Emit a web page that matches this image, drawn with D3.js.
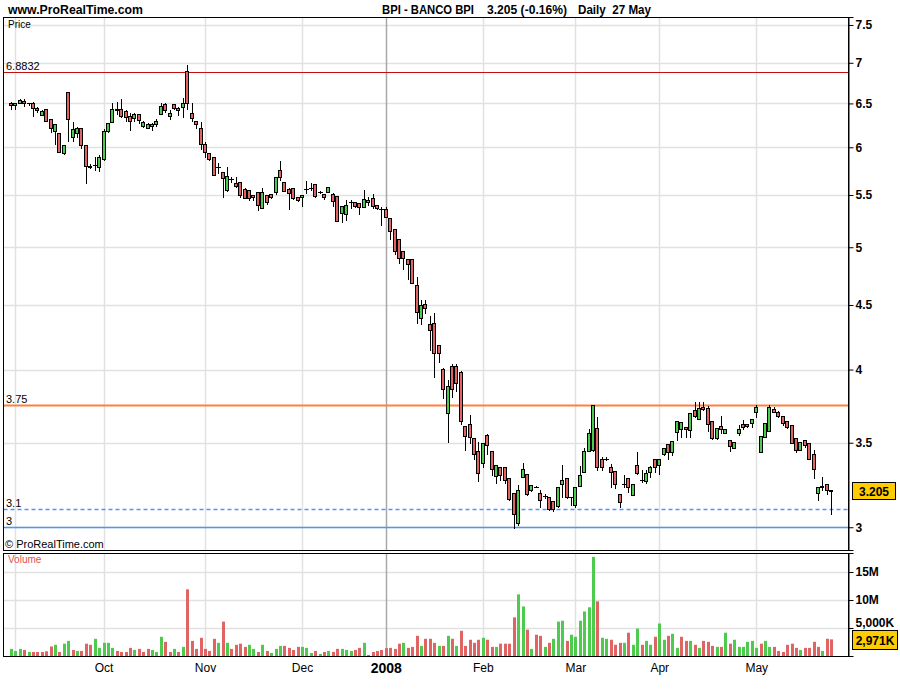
<!DOCTYPE html>
<html><head><meta charset="utf-8">
<script src="https://cdn.jsdelivr.net/npm/d3@7/dist/d3.min.js"></script>
<style>
body{margin:0;background:#fff}
svg{display:block}
text{font-family:"Liberation Sans",Arial,sans-serif}
</style>
</head><body>
<svg id="chart" width="900" height="700"></svg>
<script>
// ---------- DATA ----------
const openP=[6.50,6.48,6.50,6.53,6.50,6.51,6.445,6.36,6.43,6.314,6.18,6.155,5.94,6.633,6.11,6.155,6.21,6.02,5.80,5.81,
5.785,5.87,6.18,6.28,6.44,6.43,6.414,6.354,6.33,6.38,6.237,6.21,6.237,6.26,6.375,6.49,6.357,6.49,6.45,6.455,
6.90,6.385,6.30,6.21,6.04,5.935,5.90,5.785,5.738,5.55,5.66,5.618,5.628,5.557,5.55,5.50,5.527,5.368,5.50,5.507,
5.527,5.756,5.628,5.56,5.567,5.477,5.477,5.56,5.567,5.607,5.533,5.51,5.527,5.507,5.49,5.325,5.31,5.434,5.428,5.418,
5.385,5.434,5.467,5.397,5.36,5.358,5.27,5.167,5.073,4.966,4.894,4.89,4.665,4.392,4.508,4.346,4.352,4.183,4.004,3.693,
4.026,4.026,3.98,3.606,3.62,3.532,3.445,3.374,3.548,3.45,3.293,3.346,3.346,3.28,3.194,3.026,3.285,3.304,3.21,3.23,
3.194,3.175,3.168,3.148,3.12,3.249,3.28,3.17,3.127,3.236,3.32,3.448,3.453,3.597,3.40,3.397,3.346,3.322,3.19,3.245,
3.28,3.18,3.36,3.269,3.265,3.32,3.40,3.36,3.426,3.49,3.44,3.57,3.587,3.60,3.582,3.715,3.653,3.737,3.726,3.641,
3.528,3.608,3.56,3.517,3.468,3.565,3.62,3.622,3.626,3.70,3.44,3.538,3.577,3.72,3.704,3.675,3.641,3.615,3.528,3.453,
3.52,3.496,3.426,3.194,3.23,3.244,3.21];
const highP=[6.52,6.51,6.55,6.55,6.51,6.52,6.46,6.42,6.44,6.314,6.26,6.16,6.03,6.633,6.28,6.23,6.21,6.02,5.815,5.90,
5.92,6.20,6.27,6.51,6.52,6.55,6.42,6.385,6.385,6.38,6.295,6.27,6.27,6.32,6.51,6.50,6.42,6.49,6.46,6.56,
6.97,6.51,6.30,6.28,6.06,5.94,5.90,5.833,5.738,5.79,5.68,5.68,5.628,5.567,5.55,5.50,5.527,5.573,5.50,5.507,
5.68,5.85,5.628,5.567,5.567,5.477,5.50,5.64,5.624,5.607,5.543,5.51,5.577,5.516,5.49,5.39,5.45,5.45,5.428,5.418,
5.55,5.483,5.51,5.397,5.377,5.377,5.27,5.167,5.08,4.966,4.894,4.89,4.736,4.539,4.541,4.41,4.432,4.183,4.01,3.924,
4.041,4.041,3.987,3.606,3.682,3.532,3.506,3.496,3.556,3.45,3.36,3.346,3.346,3.28,3.194,3.24,3.37,3.304,3.24,3.234,
3.21,3.19,3.168,3.148,3.226,3.36,3.28,3.17,3.226,3.355,3.468,3.587,3.75,3.67,3.41,3.41,3.366,3.322,3.19,3.30,
3.28,3.249,3.443,3.33,3.33,3.355,3.40,3.40,3.464,3.49,3.512,3.641,3.633,3.60,3.697,3.767,3.767,3.767,3.744,3.641,
3.593,3.674,3.587,3.517,3.506,3.615,3.648,3.622,3.653,3.75,3.543,3.626,3.75,3.733,3.71,3.675,3.641,3.615,3.528,3.506,
3.52,3.496,3.457,3.226,3.285,3.244,3.21];
const lowP=[6.437,6.44,6.50,6.47,6.48,6.357,6.40,6.36,6.295,6.17,6.036,5.945,5.93,6.07,6.07,6.118,5.99,5.62,5.775,5.756,
5.75,5.862,6.17,6.28,6.38,6.34,6.29,6.19,6.29,6.27,6.23,6.21,6.19,6.237,6.375,6.40,6.314,6.43,6.365,6.346,
6.43,6.29,6.21,5.977,5.90,5.862,5.70,5.728,5.483,5.54,5.635,5.584,5.483,5.467,5.45,5.45,5.351,5.368,5.41,5.47,
5.507,5.652,5.54,5.364,5.457,5.44,5.393,5.523,5.55,5.483,5.516,5.46,5.527,5.393,5.247,5.238,5.254,5.374,5.385,5.31,
5.385,5.40,5.368,5.358,5.207,5.28,5.075,4.94,4.86,4.805,4.716,4.68,4.356,4.35,4.437,4.145,3.944,4.055,3.80,3.506,
3.806,3.848,3.62,3.457,3.496,3.397,3.263,3.35,3.428,3.30,3.255,3.269,3.25,3.152,2.998,3.01,3.285,3.18,3.206,3.226,
3.114,3.162,3.095,3.091,3.114,3.17,3.164,3.125,3.114,3.234,3.32,3.448,3.448,3.33,3.33,3.39,3.226,3.222,3.114,3.226,
3.20,3.18,3.306,3.259,3.253,3.285,3.32,3.306,3.422,3.40,3.422,3.517,3.538,3.538,3.538,3.67,3.653,3.715,3.577,3.524,
3.524,3.56,3.56,3.448,3.464,3.55,3.587,3.60,3.60,3.67,3.44,3.538,3.577,3.704,3.67,3.615,3.593,3.496,3.443,3.453,
3.474,3.40,3.283,3.152,3.21,3.19,3.076];
const closeP=[6.478,6.51,6.537,6.50,6.50,6.445,6.422,6.41,6.298,6.21,6.26,5.945,6.03,6.314,6.20,6.21,6.025,5.80,5.785,5.81,
5.90,6.18,6.27,6.43,6.42,6.357,6.346,6.30,6.375,6.306,6.28,6.26,6.26,6.30,6.47,6.422,6.39,6.45,6.42,6.51,
6.50,6.33,6.26,6.04,5.945,5.876,5.70,5.785,5.67,5.697,5.66,5.59,5.50,5.473,5.473,5.483,5.397,5.527,5.434,5.477,
5.68,5.68,5.543,5.516,5.473,5.45,5.50,5.56,5.567,5.493,5.533,5.477,5.577,5.443,5.247,5.39,5.397,5.434,5.394,5.38,
5.457,5.45,5.394,5.368,5.36,5.285,5.153,4.968,4.90,4.906,4.847,4.687,4.445,4.502,4.473,4.30,4.12,4.12,3.858,3.88,
3.858,3.905,3.641,3.545,3.535,3.426,3.313,3.496,3.485,3.334,3.36,3.30,3.269,3.156,3.076,3.208,3.334,3.19,3.238,3.23,
3.152,3.175,3.099,3.099,3.226,3.273,3.168,3.17,3.226,3.298,3.447,3.56,3.75,3.346,3.346,3.397,3.318,3.249,3.142,3.245,
3.226,3.249,3.31,3.269,3.314,3.35,3.346,3.40,3.464,3.44,3.512,3.641,3.633,3.587,3.693,3.677,3.726,3.722,3.62,3.528,
3.593,3.587,3.587,3.479,3.506,3.587,3.60,3.608,3.653,3.733,3.543,3.626,3.733,3.704,3.677,3.626,3.60,3.496,3.453,3.506,
3.485,3.40,3.334,3.226,3.236,3.21,3.205];
// volume in millions of shares
const volumeM=[1.27,0.9,1.27,1.08,0.72,0.72,0.72,0.72,0.84,1.7, 2.0,0.72,2.2,2.7,1.08,0.9,0.9,2.2,2.0,3.07,
1.45,2.35,2.35,1.45,0.9,0.72,0.72,1.45,1.08,1.27, 0.72,1.27,1.08,0.72,3.43,2.53,0.72,1.27,0.72,1.63,
11.9,2.7,1.27,3.25,1.27,0.9,3.07,2.35,6.14,2.35, 1.27,2.0,2.2,1.63,2.0,1.27,0.72,2.0,0.9,0.54,
1.27,1.8,1.8,1.45,1.08,1.63,1.63,1.45,0.54,0.9, 0.36,0.72,0.9,0.72,1.27,1.27,1.08,0.9,1.08,1.45,
2.35,0.18,0.72,0.9,1.08,1.4,1.45,1.27,2.2,2.35, 1.45,1.63,3.6,1.8,3.07,3.07,2.35,1.8,1.8,3.6,
3.07,1.8,4.5,1.8,2.9,2.35,2.9,3.25,2.9,1.63, 1.63,2.2,2.2,2.2,6.9,11.0,8.85,4.7,1.27,3.8,
3.6,1.63,2.35,3.07,6.14,6.3,2.7,3.8,3.43,6.3, 7.95,8.7,17.7,9.76,3.25,3.07,2.9,2.0,2.35,2.35,
4.16,2.0,4.9,2.0,2.7,2.0,3.43,5.8,2.9,3.6, 3.97,1.45,3.43,2.7,2.7,2.0,1.45,2.7,2.53,1.8,
1.63,1.63,4.16,2.2,2.9,1.63,1.63,2.53,2.7,1.45, 2.2,2.7,1.63,1.63,0.9,0.72,2.0,2.2,1.45,1.08,
1.45,1.45,2.53,1.63,0.9,3.07,2.971];
const monthLabels=["","Oct","Nov","Dec","2008","Feb","Mar","Apr","May"];
const monthStart=[1,21,44,66,85,107,128,147,169];
const priceTicks=[3,3.5,4,4.5,5,5.5,6,6.5,7,7.5];
const volTicks=[5,10,15];
const volTickLabels=["5,000K","10M","15M"];
const levelValues=[6.8832,3.75,3.1,3];
const levelLabels=["6.8832","3.75","3.1","3"];
const titleLeft="www.ProRealTime.com";
const titleParts=["BPI - BANCO BPI","3.205 (-0.16%)","Daily  27 May"];
const lastPriceLabel="3.205";
const lastVolLabel="2,971K";

// ---------- LAYOUT ----------
const svg=d3.select("#chart");
const L=3.5, R=848.5, PT=17.5, PB=550.5, VT=553.5, VB=656.5;
const N=closeP.length;
const x=d3.scaleLinear().domain([-1.565,189.8]).range([4,848]);
const y=d3.scaleLog().domain([2.878,7.61]).range([550,17]);
const yv=d3.scaleLinear().domain([0,18.39]).range([656,553]);
const GREEN="#4ccb4c", RED="#e06464", GRID="#e1e1e1";
const cx=i=>Math.round(x(i));
const condensed=(sel,w)=>sel.attr("textLength",w).attr("lengthAdjust","spacingAndGlyphs");

svg.append("rect").attr("width",900).attr("height",700).attr("fill","#fff");

// title
condensed(svg.append("text").attr("x",8).attr("y",14).attr("font-size",13).attr("font-weight","bold").attr("fill","#000").text(titleLeft),135);
const tx=[382,487,578], tw=[92,80,73];
titleParts.forEach((t,k)=>condensed(svg.append("text").attr("x",tx[k]).attr("y",14).attr("font-size",13).attr("font-weight","bold").attr("fill","#000").attr("xml:space","preserve").text(t),tw[k]));

// ----- price panel -----
const pp=svg.append("g");
pp.selectAll(".hg").data(priceTicks).enter().append("line")
  .attr("x1",L).attr("x2",R).attr("y1",d=>Math.round(y(d))+0.5).attr("y2",d=>Math.round(y(d))+0.5)
  .attr("stroke",GRID).attr("stroke-width",1.5);
pp.selectAll(".vg").data(monthStart).enter().append("line")
  .attr("x1",d=>cx(d)+0.5).attr("x2",d=>cx(d)+0.5).attr("y1",PT).attr("y2",PB)
  .attr("stroke",(d,k)=>monthLabels[k]==="2008"?"#a8a8a8":GRID).attr("stroke-width",1.5);

// level lines
const levelColor=["#c01010","#ff8040","#4f93ff","#4f93ff"];
const levelWidth=[1,2,1.5,1.5];
const levelDash=[null,null,"4,3",null];
levelValues.forEach((v,k)=>{
  const yy=Math.round(y(v))+0.5;
  const ln=pp.append("line").attr("x1",L).attr("x2",R).attr("y1",yy).attr("y2",yy)
    .style("stroke",levelColor[k]).style("stroke-width",levelWidth[k]);
  if(levelDash[k]) ln.style("stroke-dasharray",levelDash[k]);
  pp.append("text").attr("x",6).attr("y",yy-3).attr("font-size",11).attr("fill","#000").text(levelLabels[k]);
});

// candles
const candles=pp.append("g");
d3.range(N).forEach(i=>{
  const xc=cx(i);
  const o=openP[i], c=closeP[i], h=highP[i], l=lowP[i];
  candles.append("line").attr("x1",xc+0.5).attr("x2",xc+0.5)
    .attr("y1",Math.round(y(h))).attr("y2",Math.round(y(l))+1)
    .attr("stroke","#000").attr("stroke-width",1);
  const yt=Math.round(y(Math.max(o,c))), yb=Math.round(y(Math.min(o,c)));
  if(yb-yt<1){
    candles.append("line").attr("x1",xc-2).attr("x2",xc+3).attr("y1",yt+0.5).attr("y2",yt+0.5)
      .attr("stroke","#000").attr("stroke-width",1);
  } else {
    candles.append("rect").attr("x",xc-1.5).attr("width",3).attr("y",yt+0.5).attr("height",yb-yt)
      .attr("fill",c>=o?GREEN:RED).attr("stroke","#000").attr("stroke-width",1);
  }
});

// border
pp.append("rect").attr("x",L).attr("y",PT).attr("width",R-L).attr("height",PB-PT)
  .attr("fill","none").attr("stroke","#000").attr("stroke-width",1);
pp.append("text").attr("x",8).attr("y",28).attr("font-size",10).attr("fill","#000").text("Price");
pp.append("text").attr("x",5).attr("y",548).attr("font-size",11).attr("fill","#000").text("\u00A9 ProRealTime.com");

// price axis
const pax=svg.append("g").attr("transform",`translate(${R},0)`)
  .call(d3.axisRight(y).tickValues(priceTicks).tickFormat(d=>d).tickSize(5).tickPadding(2));
pax.select(".domain").attr("stroke","#000");
pax.selectAll(".tick line").attr("stroke","#000");
pax.selectAll("text").attr("font-size",12).attr("font-weight","bold").attr("fill","#000")
  .attr("font-family","'Liberation Sans',Arial,sans-serif");
// last price box
const ylp=y(closeP[N-1]);
svg.append("rect").attr("x",852.5).attr("y",Math.round(ylp)-8.5).attr("width",43).attr("height",17)
  .attr("fill","#ffcc00").attr("stroke","#000");
svg.append("text").attr("x",874).attr("y",Math.round(ylp)+4.5).attr("text-anchor","middle")
  .attr("font-size",12).attr("font-weight","bold").text(lastPriceLabel);

// ----- volume panel -----
const vp=svg.append("g");
vp.selectAll(".vhg").data(volTicks).enter().append("line")
  .attr("x1",L).attr("x2",R).attr("y1",d=>Math.round(yv(d))+0.5).attr("y2",d=>Math.round(yv(d))+0.5)
  .attr("stroke",GRID).attr("stroke-width",1.5);
vp.selectAll(".vvg").data(monthStart).enter().append("line")
  .attr("x1",d=>cx(d)+0.5).attr("x2",d=>cx(d)+0.5).attr("y1",VT).attr("y2",VB)
  .attr("stroke",(d,k)=>monthLabels[k]==="2008"?"#a8a8a8":GRID).attr("stroke-width",1.5);
vp.selectAll(".vb").data(volumeM).enter().append("rect")
  .attr("x",(d,i)=>cx(i)-1).attr("width",3)
  .attr("y",d=>yv(d)).attr("height",d=>656-yv(d))
  .attr("fill",(d,i)=>(i===0||closeP[i]>=closeP[i-1])?GREEN:RED);
vp.append("rect").attr("x",L).attr("y",VT).attr("width",R-L).attr("height",VB-VT)
  .attr("fill","none").attr("stroke","#000");
vp.append("text").attr("x",8).attr("y",563).attr("font-size",10).attr("fill","#e05050").text("Volume");

const vax=svg.append("g").attr("transform",`translate(${R},0)`)
  .call(d3.axisRight(yv).tickValues(volTicks).tickFormat((d,k)=>volTickLabels[k]).tickSize(5).tickPadding(2));
vax.select(".domain").attr("stroke","#000");
vax.selectAll(".tick line").attr("stroke","#000");
vax.selectAll("text").attr("font-size",12).attr("font-weight","bold").attr("fill","#000")
  .attr("font-family","'Liberation Sans',Arial,sans-serif");
vax.selectAll("text").filter((d,k)=>k===0).attr("dy","-0.1em");
const ylv=yv(volumeM[N-1]);
svg.append("rect").attr("x",852.5).attr("y",Math.round(ylv)-8.5).attr("width",45).attr("height",19)
  .attr("fill","#ffcc00").attr("stroke","#000");
svg.append("text").attr("x",875).attr("y",Math.round(ylv)+5.5).attr("text-anchor","middle")
  .attr("font-size",12).attr("font-weight","bold").text(lastVolLabel);

// x axis labels
const xax=svg.append("g").attr("transform",`translate(0,${VB})`)
  .call(d3.axisBottom(x).tickValues(monthStart).tickFormat((d,k)=>monthLabels[k]).tickSize(0).tickPadding(7));
xax.select(".domain").remove();
xax.selectAll("text").attr("font-size",(d,k)=>monthLabels[k]==="2008"?14:12)
  .attr("font-weight",(d,k)=>monthLabels[k]==="2008"?"bold":"normal").attr("fill","#000")
  .attr("font-family","'Liberation Sans',Arial,sans-serif");
</script>
</body></html>
